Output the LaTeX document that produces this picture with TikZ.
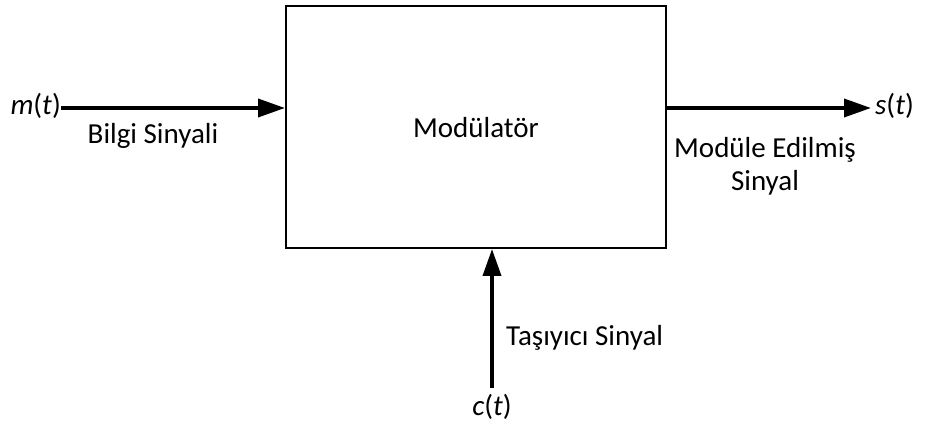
\documentclass[tikz,border=0pt]{standalone}
\usepackage{fontspec}
\setmainfont{Carlito}
\usetikzlibrary{arrows.meta}
\begin{document}
\begin{tikzpicture}[x=1pt,y=-1pt,
  lbl/.style={font=\fontsize{29}{33}\selectfont, inner sep=0pt},
  sig/.style={line width=3.7pt, -{Triangle[length=27pt,width=18pt]}}]
\useasboundingbox (0,0) rectangle (927,427);
% modulator block
\node[draw, line width=2pt, minimum width=380pt, minimum height=242pt, inner sep=0pt]
  (mod) at (476,127) {};
\node[lbl] (modtxt) at (476,128) {Modülatör};
% signal end points
\node[lbl, anchor=east] (m) at (61,106) {\textit{m}(\textit{t})};
\node[lbl, anchor=west] (s) at (875,106) {\textit{s}(\textit{t})};
\node[lbl, anchor=north] (c) at (492,394) {\textit{c}(\textit{t})};
% connectors
\draw[sig] (m.east |- 0,108) -- (mod.west |- 0,108);
\draw[sig] (mod.east |- 0,108) -- ([xshift=-4pt]s.west |- 0,108);
\draw[sig] (c.north) ++(0,-6) coordinate (cb) -- (mod.south -| cb);
% labels
\node[lbl] (bilgi) at (153,136) {Bilgi Sinyali};
\node[lbl, align=center] (out) at (765,166) {Modüle Edilmiş\\Sinyal};
\node[lbl, anchor=west] (tas) at (506,338) {Taşıyıcı Sinyal};
\end{tikzpicture}
\end{document}
